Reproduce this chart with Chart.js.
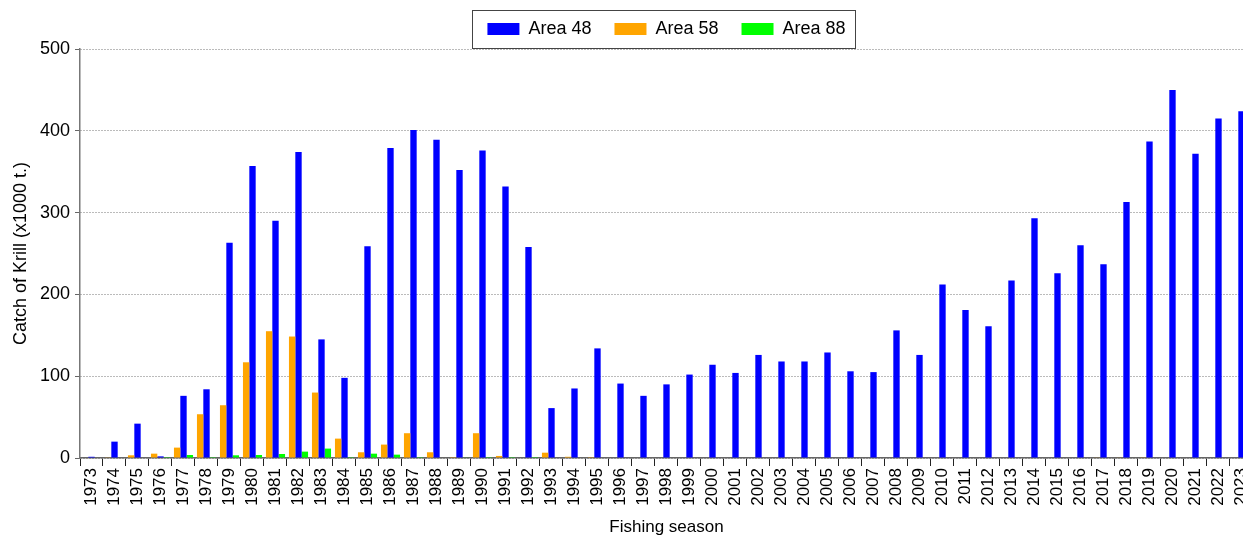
<!DOCTYPE html>
<html>
<head>
<meta charset="utf-8">
<style>
  html, body { margin: 0; padding: 0; background: #fff; overflow: hidden; }
</style>
<script src="https://cdn.jsdelivr.net/npm/chart.js"></script>
</head>
<body>
<canvas id="krillChart" width="1264" height="536"></canvas>
<script>
const seasons = ['1973', '1974', '1975', '1976', '1977', '1978', '1979', '1980', '1981', '1982',
    '1983', '1984', '1985', '1986', '1987', '1988', '1989', '1990', '1991', '1992',
    '1993', '1994', '1995', '1996', '1997', '1998', '1999', '2000', '2001', '2002',
    '2003', '2004', '2005', '2006', '2007', '2008', '2009', '2010', '2011', '2012',
    '2013', '2014', '2015', '2016', '2017', '2018', '2019', '2020', '2021', '2022', '2023'];

// catch in thousand tonnes
const area48 = [1.5, 20, 42, 2, 76, 84, 263, 357, 290, 374,
    145, 98, 259, 379, 401, 389, 352, 376, 332, 258,
    61, 85, 134, 91, 76, 90, 102, 114, 104, 126,
    118, 118, 129, 106, 105, 156, 126, 212, 181, 161,
    217, 293, 226, 260, 237, 313, 387, 450, 372, 415, 424];
const area58 = [0, 0.8, 3.3, 5.3, 12.7, 53.5, 64.5, 117, 155, 148.5,
    80, 23.7, 7, 16.4, 30.3, 7, 1, 30.3, 2.5, 0,
    6.5, 1.5, 1, 0, 0, 0, 0, 0, 0, 0,
    0, 0, 0, 0, 0, 0, 0, 0, 0, 0,
    0, 0, 0, 0, 0.5, 0.5, 0.4, 0, 0, 0, 0];
const area88 = [0, 0, 0, 1, 3.7, 1, 3.3, 3.7, 4.9, 7.8,
    11.5, 1, 5.3, 4.1, 1, 0, 0.5, 1, 1, 1,
    0, 0, 0, 0, 0, 0, 0, 0, 0, 0,
    0, 0, 0, 0, 0, 0, 0, 0, 0, 0,
    0, 0, 0, 0, 0, 0, 0, 0, 0, 0, 0];
const yTicks = [0, 100, 200, 300, 400, 500];

Chart.defaults.font.family = '"Liberation Sans", Arial, sans-serif';
Chart.defaults.color = '#000';

// frame round the legend, and a little extra room below it
const legendFrame = {
    id: 'legendFrame',
    beforeInit(chart) {
        const legend = chart.legend;
        const fit = legend.fit;
        legend.fit = function () {
            fit.call(this);
            this.height += 1;
        };
    },
    afterDraw(chart) {
        const boxes = chart.legend.legendHitBoxes;
        if (!boxes || !boxes.length) return;
        const first = boxes[0];
        const last = boxes[boxes.length - 1];
        const ctx = chart.ctx;
        ctx.save();
        ctx.strokeStyle = '#444';
        ctx.lineWidth = 1;
        const left = Math.round(first.left - 15) + 0.5;
        const right = Math.round(last.left + last.width + 9) + 0.5;
        const top = Math.round(first.top - 10) + 0.5;
        const bottom = Math.round(first.top + first.height + 10) + 0.5;
        ctx.strokeRect(left, top, right - left, bottom - top);
        ctx.restore();
    }
};

const ctx = document.getElementById('krillChart').getContext('2d');
new Chart(ctx, {
    type: 'bar',
    data: {
        labels: seasons,
        datasets: [
            { label: 'Area 58', data: area58, backgroundColor: '#ffa500' },
            { label: 'Area 48', data: area48, backgroundColor: '#0000ff' },
            { label: 'Area 88', data: area88, backgroundColor: '#00ff00' }
        ]
    },
    options: {
        responsive: false,
        animation: false,
        layout: { padding: { top: -3, right: 0, left: 0, bottom: 0 } },
        datasets: {
            bar: { categoryPercentage: 0.83, barPercentage: 1.0 }
        },
        plugins: {
            legend: {
                position: 'top',
                fullSize: false,
                labels: {
                    boxWidth: 32,
                    boxHeight: 12,
                    padding: 23,
                    font: { size: 18 },
                    sort: (a, b) => a.text.localeCompare(b.text)
                }
            },
            tooltip: { enabled: false }
        },
        scales: {
            x: {
                grid: {
                    offset: true,
                    drawOnChartArea: false,
                    drawTicks: true,
                    tickLength: 8,
                    color: '#222'
                },
                border: { color: '#666', width: 1.5 },
                ticks: {
                    autoSkip: false,
                    minRotation: 90,
                    maxRotation: 90,
                    padding: 2,
                    font: { size: 17 }
                },
                title: {
                    display: true,
                    text: 'Fishing season',
                    font: { size: 17, lineHeight: 1 },
                    padding: { top: 0, bottom: 0.5 }
                },
                afterFit(scale) { scale.height = 78; }
            },
            y: {
                min: 0,
                max: 500,
                afterBuildTicks(scale) {
                    scale.ticks = yTicks.map(v => ({ value: v }));
                },
                grid: {
                    color: '#777',
                    lineWidth: 1,
                    tickLength: 5,
                    tickColor: '#666',
                    tickBorderDash: []
                },
                border: { color: '#777', width: 1.5, dash: [1, 2] },
                ticks: {
                    padding: 5,
                    font: { size: 18 }
                },
                title: {
                    display: true,
                    text: 'Catch of Krill (x1000 t.)',
                    font: { size: 18 },
                    padding: { top: 10, bottom: 0 }
                },
                afterFit(scale) { scale.width = 80; }
            }
        }
    },
    plugins: [legendFrame]
});
</script>
</body>
</html>
